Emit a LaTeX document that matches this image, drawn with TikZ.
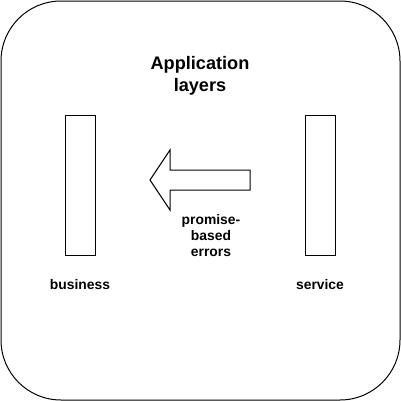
\documentclass[tikz,border=0pt]{standalone}
\usepackage{fontspec}
\setmainfont{Liberation Sans}
\begin{document}
\begin{tikzpicture}[x=0.75pt,y=-0.75pt,
  line width=0.75pt,
  layer/.style={draw=black,fill=white,minimum width=22.5pt,minimum height=105pt,inner sep=0pt},
  lbl/.style={font=\bfseries\fontsize{10.4}{11.85}\selectfont,align=center,inner sep=0pt},
  ttl/.style={font=\bfseries\fontsize{13.6}{16.5}\selectfont,align=center,inner sep=0pt}]
\useasboundingbox (0,0) rectangle (401,401);
\draw[rounded corners=45pt] (1,1) rectangle (400,400);
\node[ttl,anchor=base] (title) at (200,91) {Application\\layers};
\node[layer] (business) at (80,185) {};
\node[layer] (service) at (320,185) {};
\draw (250,170) -- (170,170) -- (170,150) -- (150,180) -- (170,210) -- (170,190) -- (250,190) -- cycle;
\node[lbl,anchor=base] (err) at (211,256) {promise-\\based\\errors};
\node[lbl,anchor=base] (blbl) at (80,289) {business};
\node[lbl,anchor=base] (slbl) at (320,289) {service};
\end{tikzpicture}
\end{document}
